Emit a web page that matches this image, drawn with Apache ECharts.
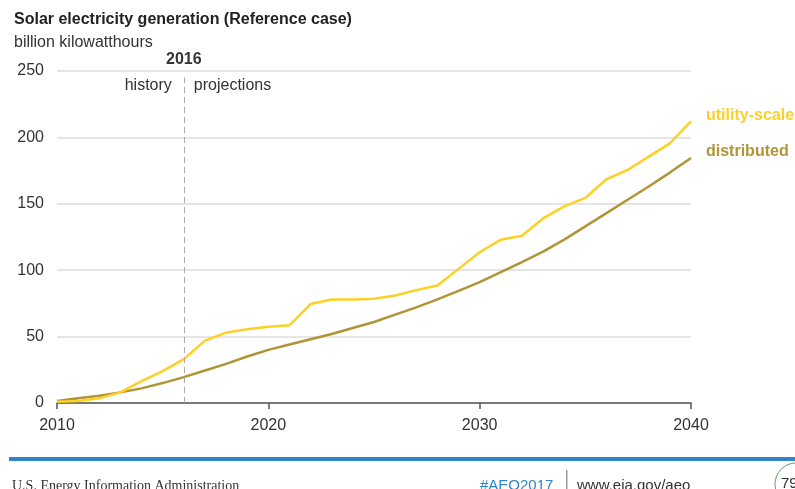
<!DOCTYPE html>
<html>
<head>
<meta charset="utf-8">
<script src="https://cdn.jsdelivr.net/npm/echarts@6/dist/echarts.min.js"></script>
<style>
  html, body { margin: 0; padding: 0; background: #fff; }
  #chart { width: 795px; height: 489px; }
</style>
</head>
<body>
<div id="chart"></div>
<script>
// Solar generation, billion kWh, AEO2017 Reference case
const years = [];
for (let y = 2010; y <= 2040; y++) years.push(y);

const utilityScale = [1, 1.5, 3.5, 8, 16.5, 24, 33, 47, 53, 55.5, 57.5, 58.5, 74.5, 78, 78, 78.5,
  81, 85, 88.5, 101, 113.5, 123, 126, 139, 148, 154.5, 168.5, 175.5, 185.5, 195.5, 212];
const distributed = [1.5, 3.5, 5.5, 8, 11, 15, 19.5, 24.5, 29.5, 35, 40, 44, 48, 52, 56.5, 61,
  66.5, 72, 78, 84.5, 91, 98.5, 106, 114, 123, 133, 143, 153, 163, 173.5, 184.5];

const xTicks = [2010, 2020, 2030, 2040];
const yTicks = [0, 50, 100, 150, 200, 250];
const splitYear = 2016;

const FONT = '"Liberation Sans", Arial, sans-serif';
const C_UTIL = '#fdd023';
const C_DIST = '#b09536';

const chart = echarts.init(document.getElementById('chart'), null, { renderer: 'canvas' });

const pairs = arr => arr.map((v, i) => [years[i], v]);

chart.setOption({
  animation: false,
  textStyle: { fontFamily: FONT },
  grid: { left: 57, right: 104, top: 71, bottom: 86, containLabel: false },
  title: [
    { text: 'Solar electricity generation (Reference case)', left: 9, top: 7,
      textStyle: { fontFamily: FONT, fontSize: 16, fontWeight: 'bold', color: '#222' } },
    { text: 'billion kilowatthours', left: 9, top: 30,
      textStyle: { fontFamily: FONT, fontSize: 16, fontWeight: 'normal', color: '#333' } }
  ],
  xAxis: {
    type: 'value', min: xTicks[0], max: xTicks[xTicks.length - 1], interval: 10,
    axisLine: { show: true, onZero: false, lineStyle: { color: '#555', width: 1.5 } },
    axisTick: { show: true, length: 6, inside: false, lineStyle: { color: '#555', width: 1.5 } },
    axisLabel: { color: '#333', fontSize: 16, fontFamily: FONT, margin: 15,
      formatter: v => String(v) },
    splitLine: { show: false }
  },
  yAxis: {
    type: 'value', min: yTicks[0], max: yTicks[yTicks.length - 1], interval: 50,
    axisLine: { show: false }, axisTick: { show: false },
    axisLabel: { color: '#333', fontSize: 16, fontFamily: FONT, margin: 13 },
    splitLine: { show: true, lineStyle: { color: '#dcdcdc', width: 1.5 } }
  },
  series: [
    {
      name: 'utility-scale', type: 'line', data: pairs(utilityScale), showSymbol: false,
      lineStyle: { color: C_UTIL, width: 2.5 }, z: 3,
      endLabel: { show: true, formatter: 'utility-scale', color: C_UTIL, fontSize: 16,
        fontWeight: 'bold', fontFamily: FONT, offset: [7, -6] }
    },
    {
      name: 'distributed', type: 'line', data: pairs(distributed), showSymbol: false,
      lineStyle: { color: C_DIST, width: 2.5 }, z: 2,
      endLabel: { show: true, formatter: 'distributed', color: C_DIST, fontSize: 16,
        fontWeight: 'bold', fontFamily: FONT, offset: [7, -6] },
      markLine: {
        silent: true, symbol: 'none', label: { show: false },
        lineStyle: { color: '#aaa', type: [6, 4], width: 1 },
        data: [[{ coord: [splitYear, 0] }, { coord: [splitYear, 245] }]]
      }
    }
  ]
});

// Annotations at the history/projections split and the page footer
const px = chart.convertToPixel({ gridIndex: 0 }, [splitYear, 250]);
chart.setOption({
  graphic: [
    { type: 'text', x: px[0], y: 52, style: { text: String(splitYear), fontFamily: FONT,
      fontSize: 16, fontWeight: 'bold', fill: '#333', align: 'center' } },
    { type: 'text', x: px[0] - 12, y: 78, style: { text: 'history', fontFamily: FONT,
      fontSize: 16, fill: '#333', align: 'right' } },
    { type: 'text', x: px[0] + 10, y: 78, style: { text: 'projections', fontFamily: FONT,
      fontSize: 16, fill: '#333', align: 'left' } },
    { type: 'rect', shape: { x: 9, y: 457, width: 786, height: 4 }, style: { fill: '#2e86c9' } },
    { type: 'text', x: 12, y: 479, style: { text: 'U.S. Energy Information Administration',
      fontFamily: '"Liberation Serif", "Times New Roman", serif', fontSize: 14, fill: '#333' } },
    { type: 'text', x: 480, y: 478, style: { text: '#AEO2017', fontFamily: FONT,
      fontSize: 15, fill: '#2e86c9' } },
    { type: 'rect', shape: { x: 566, y: 470, width: 1.5, height: 19 }, style: { fill: '#999' } },
    { type: 'text', x: 577, y: 478, style: { text: 'www.eia.gov/aeo', fontFamily: FONT,
      fontSize: 15, fill: '#333' } },
    { type: 'circle', shape: { cx: 796, cy: 484, r: 21 },
      style: { fill: '#fff', stroke: '#5aa55a', lineWidth: 1 } },
    { type: 'text', x: 781, y: 476, style: { text: '79', fontFamily: FONT,
      fontSize: 15, fill: '#333' } }
  ]
});
</script>
</body>
</html>
